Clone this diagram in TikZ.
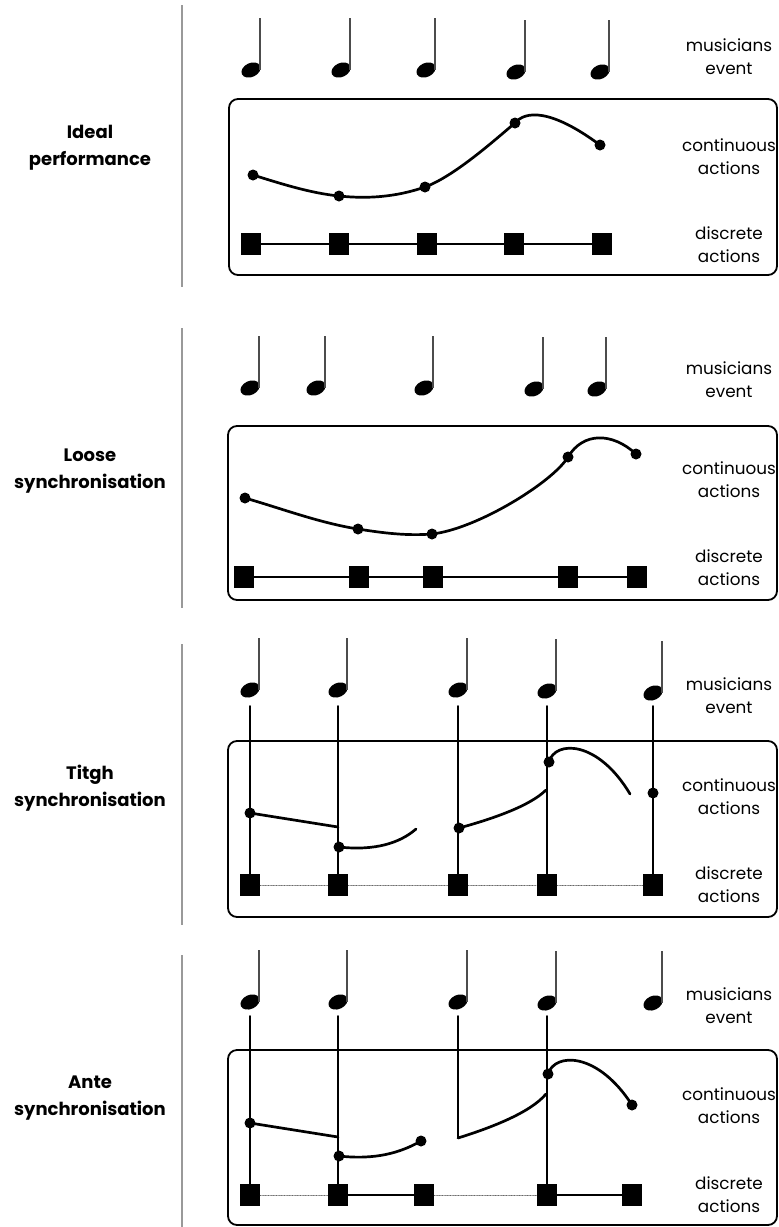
\documentclass[tikz,border=0pt]{standalone}
\usepackage{fontspec}
\setmainfont{Poppins}
\tikzset{qnote/.pic={
    \fill[rotate=25] (0,0) ellipse [x radius=10pt, y radius=7pt];
    \draw[line width=1.4pt,black!70,line cap=butt] (9pt,0pt) -- (9pt,52pt);
  }}
\begin{document}
\begin{tikzpicture}[x=1pt,y=-1pt,line join=round,line cap=round,
    sq/.style={fill=black,minimum width=20pt,minimum height=22pt,inner sep=0pt},
    panel/.style={rounded corners=9pt,line width=1.8pt},
    cont/.style={line width=2.7pt},
    chain/.style={line width=2.6pt},
    faint/.style={densely dotted,line width=0.6pt,black!60},
    tie/.style={line width=1.6pt},
    sepline/.style={line width=2.2pt,black!40,line cap=butt},
    side/.style={align=center,font=\fontsize{16.8}{23}\selectfont},
    heading/.style={align=center,font=\fontsize{18}{27}\selectfont\bfseries}]
  \useasboundingbox (0,0) rectangle (779,1227);
  % separators and titles
  \draw[sepline] (182,5) -- (182,287) (182,328) -- (182,608) (182,644) -- (182,925) (182,955) -- (182,1227);
  \node[heading] (t1) at (90,148) {Ideal\\performance};
  \node[heading] (t2) at (90,471) {Loose\\synchronisation};
  \node[heading] (t3) at (90,788) {Titgh\\synchronisation};
  \node[heading] (t4) at (90,1098) {Ante\\synchronisation};
  % labels on the right
  \foreach \y/\k in {57/1,380/2,696/3,1006/4}
    \node[side] (ev\k) at (729,\y) {musicians\\event};
  \foreach \y/\k in {157/1,480/2,797/3,1106/4}
    \node[side] (ca\k) at (729,\y) {continuous\\actions};
  \foreach \y/\k in {245/1,568/2,885/3,1195/4}
    \node[side] (da\k) at (729,\y) {discrete\\actions};
  % panel boxes
  \draw[panel] (229,99) rectangle (777,275);
  \draw[panel] (228,426) rectangle (777,600);
  \draw[panel] (228,741) rectangle (777,917);
  \draw[panel] (228,1050) rectangle (777,1225);

  % --- ideal performance
  \foreach \x/\y in {251/70,341/70,426/70,516/72,600/72}
    \pic at (\x,\y) {qnote};
  \foreach \x [count=\i] in {251,339,427,514,602}
    \node[sq] (a\i) at (\x,244) {};
  \draw[chain] (a1) -- (a2) -- (a3) -- (a4) -- (a5);
  \draw[cont] (253,175) .. controls (282,184) and (310,193) .. (339,196)
    .. controls (368,199) and (396,197) .. (425,187)
    .. controls (455,176) and (497,138) .. (515,123)
    .. controls (525,111) and (550,108) .. (600,145);
  \foreach \p in {(253,175),(339,196),(425,187),(515,123),(600,145)}
    \fill \p circle (5.5pt);

  % --- loose synchronisation
  \foreach \x/\y in {250/388,316/388,424/388,534/389,597/389}
    \pic at (\x,\y) {qnote};
  \foreach \x [count=\i] in {244,359,433,568,637}
    \node[sq] (b\i) at (\x,577) {};
  \draw[chain] (b1) -- (b2) -- (b3) -- (b4) -- (b5);
  \draw[cont] (245,498) .. controls (283,509) and (320,523) .. (358,529)
    .. controls (383,533) and (407,536) .. (432,534)
    .. controls (477,529) and (553,482) .. (568,457)
    .. controls (583,432) and (612,432) .. (636,454);
  \foreach \p in {(245,498),(358,529),(432,534),(568,457),(636,454)}
    \fill \p circle (5.5pt);

  % --- titgh synchronisation
  \foreach \x/\y in {250/690,338/690,458/690,547/691,653/693}
    \pic at (\x,\y) {qnote};
  \foreach \x [count=\i] in {250,338,458,547,653} {
    \node[sq] (c\i) at (\x,885) {};
    \coordinate (cn\i) at (\x,706);
    \draw[tie] (cn\i) -- (c\i);
  }
  \draw[faint] (c1) -- (c2) -- (c3) -- (c4) -- (c5);
  \draw[cont] (250,813) -- (338,827);
  \draw[cont] (339,847) .. controls (375,851) and (400,843) .. (416,829);
  \draw[cont] (459,828) .. controls (492,819) and (530,806) .. (546,790);
  \draw[cont] (549,762) .. controls (555,740) and (598,740) .. (630,794);
  \foreach \p in {(250,813),(339,847),(459,828),(549,762),(653,793)}
    \fill \p circle (5.5pt);

  % --- ante synchronisation
  \foreach \x/\y in {250/1002,338/1002,458/1002,547/1003,653/1003}
    \pic at (\x,\y) {qnote};
  \foreach \x [count=\i] in {250,338,424,547,632}
    \node[sq] (d\i) at (\x,1195) {};
  \foreach \x/\k in {250/1,338/2,458/3,547/4}
    \coordinate (dn\k) at (\x,1016);
  \coordinate (dk) at (458,1138);
  \draw[tie] (dn1) -- (d1) (dn2) -- (d2) (dn3) -- (dk) (dn4) -- (d4);
  \draw[faint] (d1) -- (d2) (d3) -- (d4);
  \draw[chain] (d2) -- (d3) (d4) -- (d5);
  \draw[cont] (250,1123) -- (338,1137);
  \draw[cont] (339,1156) .. controls (375,1160) and (400,1153) .. (421,1141);
  \draw[cont] (dk) .. controls (490,1128) and (530,1113) .. (546,1094);
  \draw[cont] (548,1074) .. controls (555,1052) and (598,1052) .. (632,1105);
  \foreach \p in {(250,1123),(339,1156),(421,1141),(548,1074),(632,1105)}
    \fill \p circle (5.5pt);
\end{tikzpicture}
\end{document}
